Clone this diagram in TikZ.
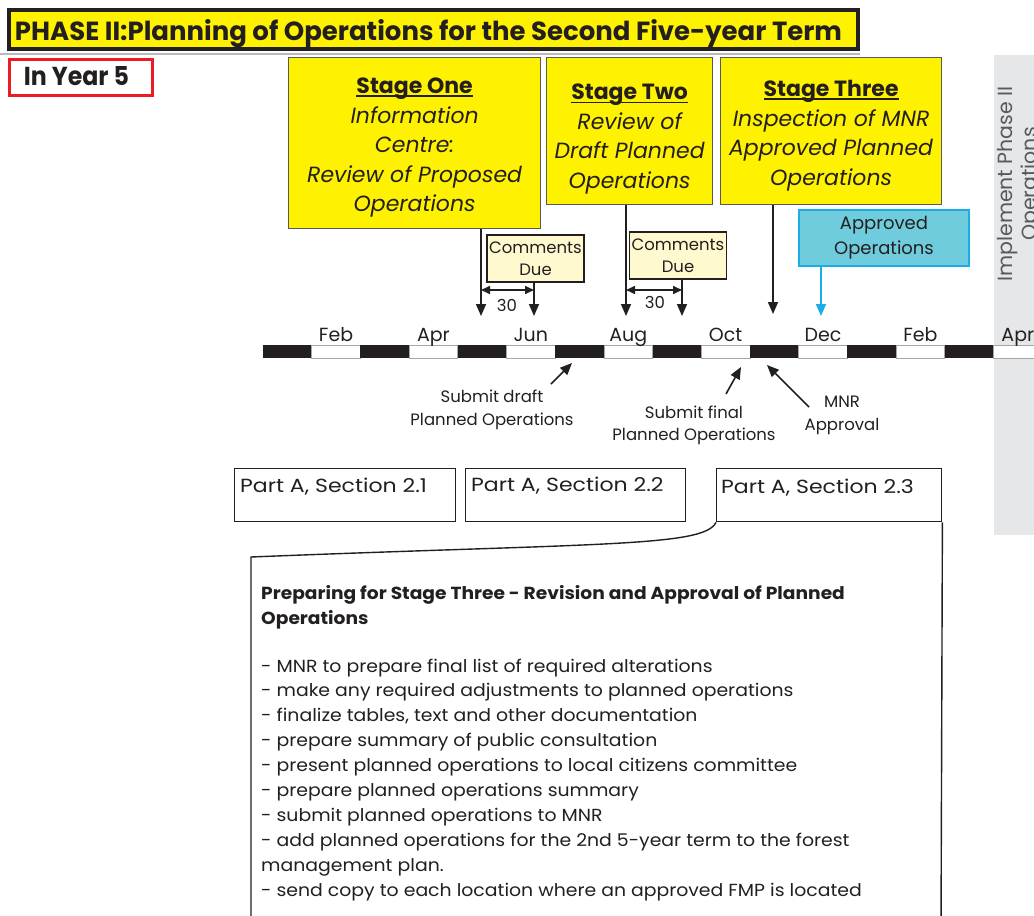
\documentclass[tikz,border=0pt]{standalone}
\usepackage{fontspec}
\setmainfont{Poppins}
\usepackage{graphicx}
\usetikzlibrary{arrows.meta}
\definecolor{ink}{HTML}{231F20}
\definecolor{yel}{HTML}{FFF200}
\definecolor{lyel}{HTML}{FFF9CF}
\definecolor{cyanf}{HTML}{6FCCDD}
\definecolor{cyanb}{HTML}{1AADE6}
\definecolor{panel}{HTML}{E6E7E8}
\definecolor{redb}{HTML}{ED1C24}
\definecolor{edge}{HTML}{58595B}
\newcommand{\stul}[1]{\setbox0\hbox{#1}\rlap{\color{ink}\rule[-3.5pt]{\wd0}{1.8pt}}\box0}
\begin{document}
\begin{tikzpicture}[x=1pt,y=-1pt,
  stagebox/.style={draw=edge, line width=1.2pt, fill=yel, inner sep=0pt, anchor=north west},
  stagetext/.style={align=center, text=ink, inner sep=0pt, font=\fontsize{22}{29.5}\selectfont\itshape},
  cbox/.style={draw=ink, line width=1.8pt, fill=lyel, inner sep=0pt, align=center, text=ink,
    minimum width=97pt, minimum height=47pt, font=\fontsize{16.5}{22}\selectfont},
  arr/.style={draw=ink, line width=1.6pt, -{Triangle[width=10pt,length=12pt]}},
  darr/.style={draw=ink, line width=1.6pt, {Triangle[width=8pt,length=9pt]}-{Triangle[width=8pt,length=9pt]}},
  mon/.style={anchor=base, text=ink, inner sep=0pt, font=\fontsize{19}{19}\selectfont},
  lab/.style={align=center, text=ink, inner sep=0pt, font=\fontsize{16.5}{22.5}\selectfont},
  pbox/.style={draw=ink, line width=1.4pt, minimum height=53pt, anchor=north west, inner sep=0pt},
  ptext/.style={anchor=base west, text=ink, inner sep=0pt, font=\fontsize{19}{19}\selectfont},
  body/.style={anchor=base west, text=ink, inner sep=0pt, font=\fontsize{17.5}{17.5}\selectfont}]
\useasboundingbox (0,0) rectangle (1034,916);
\clip (0,0) rectangle (1034,916);

% right grey panel
\fill[panel] (994,55) rectangle (1040,535);
\node[rotate=90, align=center, text=edge, inner sep=0pt, font=\fontsize{20.5}{24}\selectfont] (impl) at (1020,184) {Implement Phase II\\Operations};

% title
\node[draw=ink, line width=4pt, fill=yel, anchor=north west, minimum width=849pt, minimum height=39pt, inner sep=0pt] (title) at (7,8) {};
\draw[gray!55, line width=1.2pt] ([yshift=-3pt]title.south west -| 0,0) -- ([yshift=-3pt]title.south east);
\node[anchor=base, inner sep=0pt, text=ink] (titletext) at (428.5,40) {\resizebox{827pt}{21pt}{\bfseries PHASE II:Planning of Operations for the Second Five-year Term}};

% In Year 5
\node[draw=redb, line width=3pt, minimum width=143pt, minimum height=36pt, anchor=north west, inner sep=0pt] (year) at (8,58) {};
\node[anchor=base, inner sep=0pt, text=ink] (yeartext) at (76.5,85) {\resizebox{105pt}{19pt}{\bfseries In Year 5}};

% stage boxes
\node[stagebox, minimum width=252pt, minimum height=171pt] (s1) at (288,57) {};
\node[stagebox, minimum width=166pt, minimum height=147pt] (s2) at (546,57) {};
\node[stagebox, minimum width=221pt, minimum height=147pt] (s3) at (720,57) {};
\node[stagetext] (s1t) at ([yshift=-4.5pt]s1.center)
  {\stul{\upshape\bfseries Stage One}\\Information\\Centre:\\Review of Proposed\\Operations};
\node[stagetext] (s2t) at ([yshift=-8pt]s2.center)
  {\stul{\upshape\bfseries Stage Two}\\Review of\\Draft Planned\\Operations};
\node[stagetext] (s3t) at ([yshift=-4.5pt]s3.center)
  {\stul{\upshape\bfseries Stage Three}\\Inspection of MNR\\Approved Planned\\Operations};

% comments due boxes
\node[cbox] (c1) at (535.5,258.5) {Comments\\Due};
\node[cbox] (c2) at (678,255.5) {Comments\\Due};

% approved operations
\node[draw=cyanb, line width=2pt, fill=cyanf, minimum width=170pt, minimum height=56pt, inner sep=0pt,
  align=center, text=ink, font=\fontsize{18}{25}\selectfont] (appr) at (884,238) {Approved\\Operations};

% timeline
\foreach \i in {0,...,15}{
  \pgfmathsetmacro{\xa}{263+\i*48.7}
  \pgfmathsetmacro{\xb}{263+(\i+1)*48.7}
  \ifodd\i
    \filldraw[fill=white, draw=gray!70, line width=0.8pt] (\xa,345) rectangle (\xb,358);
  \else
    \fill[ink] (\xa,345) rectangle (\xb,358);
  \fi
}
\foreach \m/\i in {Feb/1,Apr/3,Jun/5,Aug/7,Oct/9,Dec/11,Feb/13,Apr/15}
  \node[mon] (m\i) at ({263+(\i+0.5)*48.7},341) {\m};

% arrows onto the timeline
\coordinate (t1) at (481,316);
\coordinate (t1b) at (534,316);
\coordinate (t2) at (626,316);
\coordinate (t2b) at (682,316);
\coordinate (t3) at (773,314);
\coordinate (ta) at (821,316);
\draw[arr] (s1.south -| t1) -- (t1);
\draw[arr] (c1.south -| t1b) -- (t1b);
\draw[arr] (s2.south -| t2) -- (t2);
\draw[arr] (c2.south -| t2b) -- (t2b);
\draw[arr] (s3.south -| t3) -- (t3);
\draw[draw=cyanb, line width=1.6pt, -{Triangle[width=10pt,length=12pt]}] (appr.south -| ta) -- (ta);

\coordinate (d1a) at (481,290);
\coordinate (d1b) at (534,290);
\coordinate (d2a) at (626,290);
\coordinate (d2b) at (682,290);
\draw[darr] (d1a) -- (d1b);
\draw[darr] (d2a) -- (d2b);
\node[lab] (n30a) at (507,305) {30};
\node[lab] (n30b) at (655,302) {30};

% labels below timeline
\node[lab] (lab1) at (492,410) {Submit draft\\Planned Operations};
\node[lab] (lab2) at (694,425.5) {Submit final\\Planned Operations};
\node[lab] (lab3) at (842,415.5) {MNR\\Approval};
\coordinate (a1s) at (551,384); \coordinate (a1e) at (572,363);
\coordinate (a2s) at (726,394); \coordinate (a2e) at (741,367);
\coordinate (a3s) at (809,407); \coordinate (a3e) at (767,365);
\draw[arr] (a1s) -- (a1e);
\draw[arr] (a2s) -- (a2e);
\draw[arr] (a3s) -- (a3e);

% part boxes
\node[pbox, minimum width=221pt] (p1) at (234,468) {};
\node[pbox, minimum width=220pt] (p2) at (465,468) {};
\node[pbox, minimum width=225pt] (p3) at (716,468) {};
\node[ptext] (p1t) at (240,492) {\scalebox{1.16}[1]{Part A, Section 2.1}};
\node[ptext] (p2t) at (471,491) {\scalebox{1.16}[1]{Part A, Section 2.2}};
\node[ptext] (p3t) at (721,493) {\scalebox{1.16}[1]{Part A, Section 2.3}};

% callout
\draw[ink, line width=1.4pt] (p3.south west) .. controls (704,547) and (600,543) .. (251,557) -- (251,930);
\draw[ink, line width=1.4pt] (p3.south east) -- (941,930);

\node[body, font=\fontsize{17.5}{17.5}\selectfont\bfseries] (h1) at (261,599) {\scalebox{1.065}[1]{Preparing for Stage Three - Revision and Approval of Planned}};
\node[body, font=\fontsize{17.5}{17.5}\selectfont\bfseries] (h2) at (261,624) {\scalebox{1.065}[1]{Operations}};
\foreach \t [count=\k] in {
  {- MNR to prepare final list of required alterations},
  {- make any required adjustments to planned operations},
  {- finalize tables, text and other documentation},
  {- prepare summary of public consultation},
  {- present planned operations to local citizens committee},
  {- prepare planned operations summary},
  {- submit planned operations to MNR},
  {- add planned operations for the 2nd 5-year term to the forest},
  {management plan.},
  {- send copy to each location where an approved FMP is located}}
  \node[body] (b\k) at (261,{672+(\k-1)*24.9}) {\scalebox{1.077}[1]{\t}};
\end{tikzpicture}
\end{document}
